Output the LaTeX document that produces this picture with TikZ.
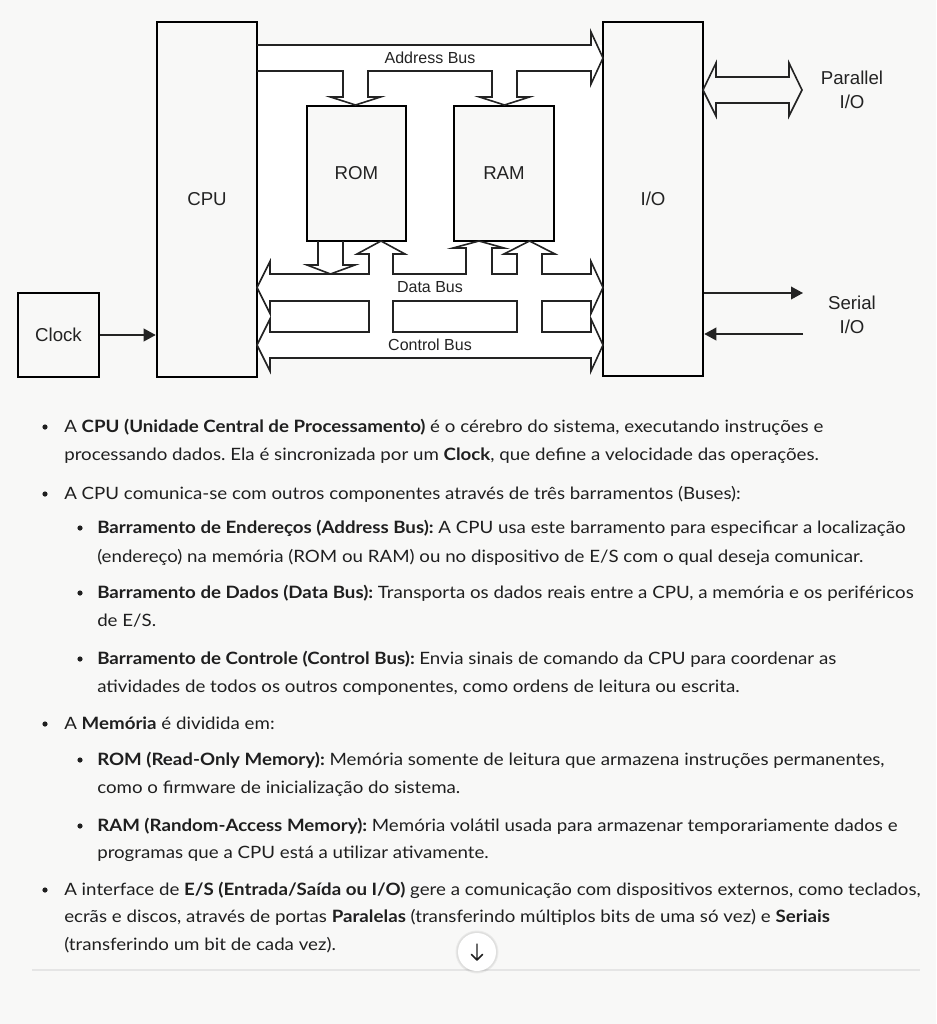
\documentclass[tikz,border=0pt]{standalone}
\usepackage{fontspec}
\setmainfont{Lato}[FakeStretch=1.1]
\newfontfamily\diag{Liberation Sans}
\usetikzlibrary{arrows.meta}
\definecolor{pagebg}{RGB}{248,248,247}
\definecolor{txt}{RGB}{31,31,31}
\definecolor{lbl}{RGB}{35,35,35}
\definecolor{rulec}{RGB}{229,229,229}
\frenchspacing
\begin{document}
\begin{tikzpicture}[x=0.75pt,y=-0.75pt,
  box/.style={draw=black,line width=1.9pt,fill=pagebg,inner sep=0pt,font=\diag\fontsize{14pt}{16pt}\selectfont,text=lbl},
  bus/.style={draw=lbl,line width=1.2pt,line join=miter},
  buslbl/.style={font=\diag\fontsize{12pt}{14pt}\selectfont,text=lbl,inner sep=0pt},
  extlbl/.style={font=\diag\fontsize{14pt}{16pt}\selectfont,text=lbl,inner sep=0pt,align=center},
  sig/.style={draw=lbl,line width=1.2pt,-{Triangle[length=9pt,width=9.5pt]}},
  ln/.style={anchor=base west,inner sep=0pt,font=\fontsize{12.75pt}{15pt}\selectfont,text=txt},
  dot/.style={fill=txt}]
\useasboundingbox[fill=pagebg] (0,0) rectangle (936,1024);

% white area of the figure
\fill[white] (257,45) rectangle (603,358);
\fill[white] (591,32) -- (603,58) -- (591,84) -- cycle;
\fill[white] (591,261.5) -- (603,287.5) -- (591,313.5) -- cycle;
\fill[white] (591,319) -- (603,345) -- (591,371) -- cycle;
\fill[white] (270,261.5) -- (257,287.5) -- (270,313.5) -- cycle;
\fill[white] (270,319) -- (257,345) -- (270,371) -- cycle;

% boxes
\node[box,minimum width=75pt,minimum height=266.25pt] (cpu) at (207,199.5) {CPU};
\node[box,minimum width=75pt,minimum height=265.5pt] (io) at (653,199) {I/O};
\node[box,minimum width=74.25pt,minimum height=101.25pt] (rom) at (356.5,173.5) {ROM};
\node[box,minimum width=75pt,minimum height=101.25pt] (ram) at (504,173.5) {RAM};
\node[box,minimum width=60.75pt,minimum height=63pt] (clock) at (58.5,335) {Clock};

% address bus
\draw[bus] (257,45) -- (591,45) -- (591,32) -- (603,58) -- (591,84) -- (591,71)
  -- (517,71) -- (517,97) -- (529.5,97) -- (504.5,105) -- (479.5,97) -- (492,97) -- (492,71)
  -- (368,71) -- (368,97) -- (380.5,97) -- (355.5,105) -- (330.5,97) -- (343,97) -- (343,71)
  -- (257,71);
\node[buslbl] (abl) at (430,58) {Address Bus};

% data and control buses
\draw[bus] (270,274) -- (369,274) -- (369,254) -- (357,254) -- (381,241) -- (405,254) -- (393,254) -- (393,274)
  -- (466,274) -- (466,248) -- (453,248) -- (479,241) -- (504,248) -- (492,248) -- (492,274)
  -- (517,274) -- (517,254) -- (504,254) -- (529.5,241) -- (555,254) -- (542,254) -- (542,274)
  -- (591,274) -- (591,261.5) -- (603,287.5) -- (591,313.5) -- (591,301) -- (542,301) -- (542,332)
  -- (591,332) -- (591,319) -- (603,345) -- (591,371) -- (591,358) -- (270,358) -- (270,371)
  -- (257,345) -- (270,319) -- (270,332) -- (369,332) -- (369,301) -- (270,301) -- (270,313.5)
  -- (257,287.5) -- (270,261.5) -- cycle;
\draw[bus] (393,301) rectangle (517,332);
\draw[bus] (318,241) -- (318,265) -- (307,265) -- (330.5,274) -- (355,265) -- (343,265) -- (343,241);
\node[buslbl] (dbl) at (430,287.5) {Data Bus};
\node[buslbl] (cbl) at (430,345) {Control Bus};

% clock
\draw[sig] (clock.east) -- (clock.east -| cpu.west);

% parallel I/O
\draw[bus] (703,90) -- (716,63) -- (716,77) -- (789,77) -- (789,63) -- (802,90) -- (789,116)
  -- (789,103) -- (716,103) -- (716,116) -- cycle;
\node[extlbl] (par) at (852,90) {Parallel\\[2pt]I/O};

% serial I/O
\coordinate (sout) at (803,293);
\coordinate (sin) at (803,334);
\draw[sig] (io.east |- sout) -- (sout);
\draw[sig] (sin) -- (io.east |- sin);
\node[extlbl] (ser) at (852,314.5) {Serial\\[2pt]I/O};

% text
\fill[dot] (45,427) circle (2.6);
\node[ln] at (64,432) {A \textbf{CPU (Unidade Central de Processamento)} é o cérebro do sistema, executando instruções e};
\node[ln] at (64,460) {processando dados. Ela é sincronizada por um \textbf{Clock}, que define a velocidade das operações.};
\fill[dot] (45,494) circle (2.6);
\node[ln] at (64,499) {A CPU comunica-se com outros componentes através de três barramentos (Buses):};
\fill[dot] (80,528) circle (2.6);
\node[ln] at (97,533) {\textbf{Barramento de Endereços (Address Bus):} A CPU usa este barramento para especificar a localização};
\node[ln] at (97,562) {(endereço) na memória (ROM ou RAM) ou no dispositivo de E/S com o qual deseja comunicar.};
\fill[dot] (80,593) circle (2.6);
\node[ln] at (97,598) {\textbf{Barramento de Dados (Data Bus):} Transporta os dados reais entre a CPU, a memória e os periféricos};
\node[ln] at (97,626) {de E/S.};
\fill[dot] (80,659) circle (2.6);
\node[ln] at (97,664) {\textbf{Barramento de Controle (Control Bus):} Envia sinais de comando da CPU para coordenar as};
\node[ln] at (97,692) {atividades de todos os outros componentes, como ordens de leitura ou escrita.};
\fill[dot] (45,724) circle (2.6);
\node[ln] at (64,729) {A \textbf{Memória} é dividida em:};
\fill[dot] (80,760) circle (2.6);
\node[ln] at (97,765) {\textbf{ROM (Read-Only Memory):} Memória somente de leitura que armazena instruções permanentes,};
\node[ln] at (97,793) {como o firmware de inicialização do sistema.};
\fill[dot] (80,826) circle (2.6);
\node[ln] at (97,831) {\textbf{RAM (Random-Access Memory):} Memória volátil usada para armazenar temporariamente dados e};
\node[ln] at (97,858) {programas que a CPU está a utilizar ativamente.};
\fill[dot] (45,890) circle (2.6);
\node[ln] at (64,895) {A interface de \textbf{E/S (Entrada/Saída ou I/O)} gere a comunicação com dispositivos externos, como teclados,};
\node[ln] at (64,922) {ecrãs e discos, através de portas \textbf{Paralelas} (transferindo múltiplos bits de uma só vez) e \textbf{Seriais}};
\node[ln] at (64,950) {(transferindo um bit de cada vez).};

% divider and scroll button
\draw[rulec,line width=0.8pt] (32,970) -- (920,970);
\fill[black,opacity=0.05] (477,952) circle (21.5);
\fill[black,opacity=0.05] (477,952) circle (20.5);
\fill[white] (477,952) circle (19);
\draw[txt,line width=1.1pt,line cap=round,line join=round] (477,944) -- (477,960) (471.5,954.5) -- (477,960) -- (482.5,954.5);
\end{tikzpicture}
\end{document}
